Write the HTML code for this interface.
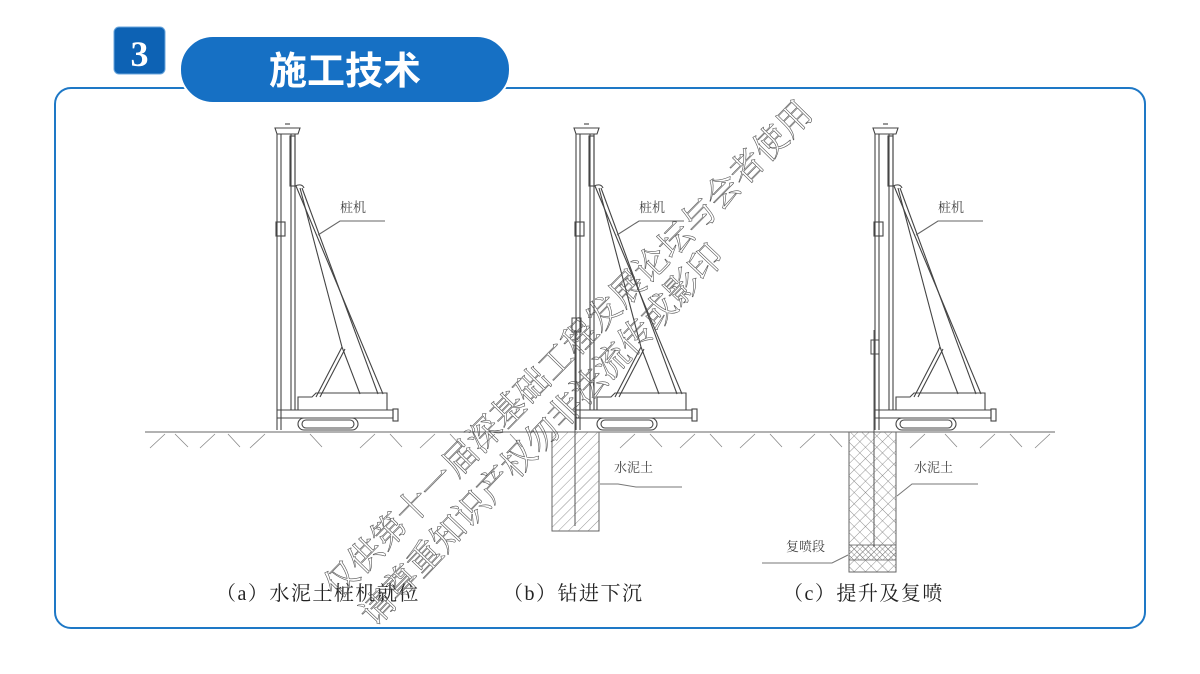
<!DOCTYPE html>
<html><head><meta charset="utf-8"><style>
html,body{margin:0;padding:0;background:#fff;}
svg{display:block;}
</style></head><body>
<svg width="1200" height="674" viewBox="0 0 1200 674" xmlns="http://www.w3.org/2000/svg" font-family="'Liberation Serif','Noto Serif CJK SC',serif">
<defs>
<pattern id="diag" width="7" height="7" patternUnits="userSpaceOnUse" patternTransform="rotate(45)">
<line x1="0" y1="0" x2="0" y2="7" stroke="#777" stroke-width="0.8"/>
</pattern>
<pattern id="cross" width="8" height="8" patternUnits="userSpaceOnUse" patternTransform="rotate(45)">
<line x1="0" y1="0" x2="0" y2="8" stroke="#777" stroke-width="0.8"/>
<line x1="0" y1="0" x2="8" y2="0" stroke="#777" stroke-width="0.8"/>
</pattern>
<pattern id="cross2" width="4" height="4" patternUnits="userSpaceOnUse" patternTransform="rotate(45)">
<line x1="0" y1="0" x2="0" y2="4" stroke="#666" stroke-width="0.7"/>
<line x1="0" y1="0" x2="4" y2="0" stroke="#666" stroke-width="0.7"/>
</pattern>
<g id="rig" fill="none" stroke="#444" stroke-width="1.1">
<path d="M275 128 L300 128 L298 134 L277 134 Z"/>
<path d="M285 124 L290 124"/>
<line x1="277" y1="134" x2="277" y2="430"/>
<line x1="281" y1="134" x2="281" y2="430"/>
<line x1="291" y1="134" x2="291" y2="410"/>
<line x1="295" y1="134" x2="295" y2="410"/>
<rect x="290" y="136" width="5" height="50"/>
<path d="M295 186 Q302 183 304 188"/>
<rect x="276" y="222" width="9" height="14"/>
<line x1="296" y1="186" x2="383" y2="394"/>
<line x1="300" y1="188" x2="342" y2="347"/>
<line x1="302" y1="188" x2="378" y2="394"/>
<line x1="342" y1="347" x2="316" y2="397"/>
<line x1="345" y1="349" x2="320" y2="397"/>
<line x1="342" y1="347" x2="360" y2="394"/>
<path d="M298 397 L312 397 L316 393 L387 393 L387 410 L298 410 Z"/>
<path d="M277 410 L393 410 L393 418 L277 418"/>
<rect x="393" y="409" width="5" height="12"/>
<rect x="298" y="418" width="60" height="12" rx="6"/>
<rect x="302" y="420" width="52" height="8" rx="4"/>
<path d="M318 235 L340 221 L385 221" stroke="#666"/>
</g>
</defs>

<rect x="55" y="88" width="1090" height="540" rx="16" fill="#fff" stroke="#1e78c6" stroke-width="2"/>
<rect x="114" y="27" width="51" height="47" rx="5" fill="#0d62b4" stroke="#6aa6dc" stroke-width="1"/>
<text x="139.5" y="66" text-anchor="middle" font-size="36" font-weight="bold" fill="#fff" font-family="'Liberation Serif',serif">3</text>
<rect x="180" y="36" width="330" height="67" rx="33" fill="#1670c4" stroke="#fff" stroke-width="2"/>
<text x="345" y="84" text-anchor="middle" font-size="38" font-weight="bold" fill="#fff" font-family="'Liberation Sans','Noto Sans CJK SC',sans-serif">施工技术</text>

<line x1="145" y1="432" x2="1055" y2="432" stroke="#666" stroke-width="1"/>
<g stroke="#888" stroke-width="0.8">
<path d="M150 448 L165 434 M175 434 L188 447 M200 448 L215 434 M228 434 L240 447 M250 448 L265 434 M310 434 L322 447 M360 448 L375 434 M390 434 L402 447 M420 448 L435 434 M450 434 L462 447 M480 448 L495 434 M510 434 L522 447 M620 448 L635 434 M650 434 L662 447 M680 448 L695 434 M710 434 L722 447 M740 448 L755 434 M770 434 L782 447 M800 448 L815 434 M830 434 L842 447 M910 448 L925 434 M945 434 L957 447 M980 448 L995 434 M1010 434 L1022 447 M1035 448 L1050 434"/>
</g>

<use href="#rig"/>
<use href="#rig" transform="translate(299,0)"/>
<use href="#rig" transform="translate(598,0)"/>
<text x="340" y="212" font-size="13" fill="#444">桩机</text>
<text x="639" y="212" font-size="13" fill="#444">桩机</text>
<text x="938" y="212" font-size="13" fill="#444">桩机</text>

<rect x="552" y="432" width="47" height="99" fill="url(#diag)" stroke="#666" stroke-width="1"/>
<line x1="575" y1="330" x2="575" y2="526" stroke="#555"/>
<rect x="572" y="318" width="9" height="14" fill="none" stroke="#444"/>
<path d="M600 484 L618 484 L636 487 L682 487" fill="none" stroke="#777"/>
<text x="614" y="472" font-size="13" fill="#444">水泥土</text>

<rect x="849" y="432" width="47" height="140" fill="url(#cross)" stroke="#666" stroke-width="1"/>
<rect x="849" y="545" width="47" height="15" fill="url(#cross2)" stroke="#666" stroke-width="0.8"/>
<line x1="874" y1="330" x2="874" y2="547" stroke="#555"/>
<rect x="871" y="340" width="8" height="14" fill="none" stroke="#444"/>
<path d="M897 496 L912 484 L978 484" fill="none" stroke="#777"/>
<text x="914" y="472" font-size="13" fill="#444">水泥土</text>
<path d="M762 563 L832 563 L848 555" fill="none" stroke="#777"/>
<text x="786" y="551" font-size="13" fill="#444">复喷段</text>

<text x="216" y="600" font-size="20" letter-spacing="1.5" fill="#222">（a）水泥土桩机就位</text>
<text x="503" y="600" font-size="20" letter-spacing="1.5" fill="#222">（b）钻进下沉</text>
<text x="783" y="600" font-size="20" letter-spacing="1.5" fill="#222">（c）提升及复喷</text>

<g fill="none" stroke="#555" stroke-width="0.6" font-size="34" font-family="'Noto Serif CJK SC',serif">
<text x="0" y="0" transform="translate(338,600) rotate(-45.5)">仅供第十一届深基础工程发展论坛与会者使用</text>
<text x="0" y="0" transform="translate(375,628) rotate(-46.5)">请尊重知识产权勿非法流传或影印</text>
</g>
</svg>
</body></html>
